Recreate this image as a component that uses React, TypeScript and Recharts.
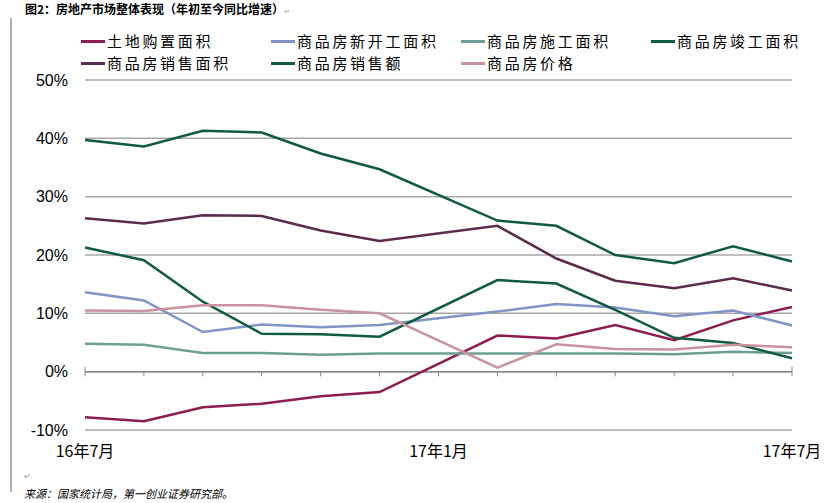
import {
  CartesianGrid,
  Line,
  LineChart,
  ReferenceLine,
  XAxis,
  YAxis,
} from "recharts"

const months = [
  "16年7月", "16年8月", "16年9月", "16年10月", "16年11月", "16年12月",
  "17年1月", "17年2月", "17年3月", "17年4月", "17年5月", "17年6月", "17年7月",
]
const xLabels = ["16年7月", "17年1月", "17年7月"]
const yTicks = [-10, 0, 10, 20, 30, 40, 50]

// 年初至今同比增速 (%), January not published (merged into Jan-Feb)
const landArea = [-7.8, -8.5, -6.1, -5.5, -4.2, -3.5, null, 6.2, 5.7, 8.0, 5.4, 8.8, 11.1]
const newStarts = [13.6, 12.2, 6.8, 8.1, 7.6, 8.0, null, 10.3, 11.6, 11.0, 9.5, 10.5, 7.9]
const underConstruction = [4.8, 4.6, 3.2, 3.2, 2.9, 3.1, null, 3.1, 3.1, 3.1, 3.0, 3.4, 3.2]
const completed = [21.3, 19.1, 12.0, 6.5, 6.4, 6.0, null, 15.7, 15.1, 10.6, 5.8, 4.9, 2.3]
const salesArea = [26.3, 25.4, 26.8, 26.7, 24.2, 22.4, null, 25.0, 19.4, 15.6, 14.3, 16.0, 13.9]
const salesValue = [39.7, 38.6, 41.3, 41.0, 37.4, 34.7, null, 25.9, 25.0, 20.0, 18.6, 21.5, 18.9]
const price = [10.5, 10.4, 11.4, 11.4, 10.6, 10.0, null, 0.7, 4.7, 3.9, 3.8, 4.6, 4.2]

const series = [
  { key: "land", name: "土地购置面积", values: landArea, color: "#8c1d4e" },
  { key: "newStarts", name: "商品房新开工面积", values: newStarts, color: "#8294c6" },
  { key: "construction", name: "商品房施工面积", values: underConstruction, color: "#6c9f93" },
  { key: "completed", name: "商品房竣工面积", values: completed, color: "#125a3e" },
  { key: "salesArea", name: "商品房销售面积", values: salesArea, color: "#5a2b4b" },
  { key: "salesValue", name: "商品房销售额", values: salesValue, color: "#125a3e" },
  { key: "price", name: "商品房价格", values: price, color: "#c8949f" },
]

const data = months.map((m, i) => {
  const row: Record<string, string | number | null> = { month: m }
  series.forEach((s) => (row[s.key] = s.values[i]))
  return row
})

const cjk = '"Noto Sans CJK SC", "Liberation Sans", sans-serif'

// legend sits above the plot, 4 columns x 2 rows like the source figure
function LegendBox() {
  return (
    <div style={{ position: "absolute", left: 0, top: 30, width: 829, height: 44 }}>
      {series.map((s, i) => {
        const col = i < 4 ? i : i - 4
        const row = i < 4 ? 0 : 1
        return (
          <div
            key={s.key}
            style={{
              position: "absolute",
              left: 81 + col * 190,
              top: row * 22,
              height: 22,
              lineHeight: "22px",
              display: "flex",
              alignItems: "center",
              fontFamily: cjk,
              fontSize: 15,
              letterSpacing: 2.7,
              color: "#000",
              whiteSpace: "nowrap",
            }}
          >
            <span style={{ display: "inline-block", width: 24, height: 3, background: s.color, marginRight: 2 }} />
            {s.name}
          </div>
        )
      })}
    </div>
  )
}

export default function App() {
  return (
    <div style={{ position: "absolute", left: 0, top: 0, width: 829, height: 503, background: "#fff", overflow: "hidden" }}>
      <div style={{ position: "absolute", left: 10, top: 18, width: 2, height: 474, background: "#b0b0b0" }} />
      <div
        style={{
          position: "absolute",
          left: 25,
          top: 0,
          fontFamily: cjk,
          fontSize: 12,
          fontWeight: 700,
          color: "#000",
          whiteSpace: "nowrap",
        }}
      >
        图2：房地产市场整体表现（年初至今同比增速）<span style={{ fontSize: 7, color: "#999", fontWeight: 400 }}>↵</span>
      </div>
      <LegendBox />
      <LineChart width={829} height={503} data={data} margin={{ top: 80, right: 37, bottom: 43, left: 25 }}>
        <CartesianGrid vertical={false} stroke="#a8a8a8" strokeWidth={1.5} />
        <YAxis
          type="number"
          domain={[-10, 50]}
          ticks={yTicks}
          width={60}
          axisLine={false}
          tickLine={false}
          tickSize={0}
          tickMargin={17}
          tickFormatter={(v) => `${v}%`}
          tick={{ fill: "#000", fontSize: 16, fontFamily: '"Liberation Sans", Arial, sans-serif' }}
        />
        <XAxis
          dataKey="month"
          ticks={xLabels}
          interval={0}
          height={30}
          axisLine={false}
          tickLine={false}
          tickSize={0}
          tickMargin={16}
          tick={{ fill: "#000", fontSize: 16, fontFamily: cjk }}
        />
        <ReferenceLine y={0} stroke="#888" strokeWidth={1.5} />
        {months.map((m, i) => (
          <ReferenceLine
            key={m}
            segment={[
              { x: m, y: i === 0 || i === months.length - 1 ? 0.8 : 0 },
              { x: m, y: -0.8 },
            ]}
            stroke="#888"
            strokeWidth={1}
          />
        ))}
        {series.map((s) => (
          <Line
            key={s.key}
            dataKey={s.key}
            name={s.name}
            stroke={s.color}
            strokeWidth={2.5}
            dot={false}
            connectNulls
            isAnimationActive={false}
          />
        ))}
      </LineChart>
      <div style={{ position: "absolute", left: 24, top: 472, fontSize: 8, color: "#999" }}>↵</div>
      <div
        style={{
          position: "absolute",
          left: 24,
          top: 486,
          fontFamily: cjk,
          fontSize: 11,
          lineHeight: "15px",
          fontStyle: "italic",
          color: "#000",
          whiteSpace: "nowrap",
        }}
      >
        来源：国家统计局，第一创业证券研究部。
      </div>
    </div>
  )
}
